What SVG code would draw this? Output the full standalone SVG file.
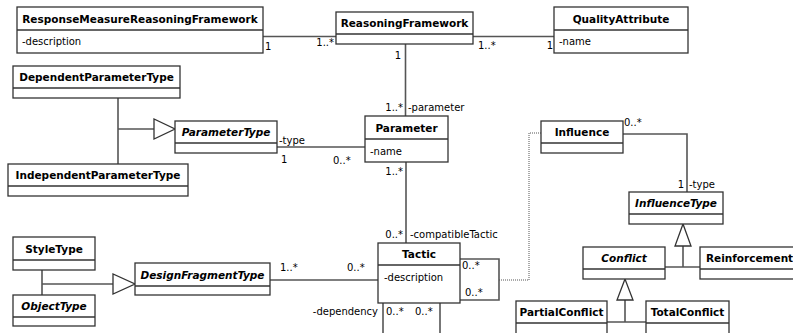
<svg xmlns="http://www.w3.org/2000/svg" width="793" height="333" viewBox="0 0 793 333">
  <style>
    .box { fill: #fff; stroke: #333; stroke-width: 1.3; }
    .sep { stroke: #333; stroke-width: 1.3; }
    .title { font-family: "DejaVu Sans", Verdana, sans-serif; font-size: 10.5px; font-weight: bold; text-anchor: middle; fill: #000; }
    .abs { font-style: italic; }
    .attr { font-family: "DejaVu Sans", Verdana, sans-serif; font-size: 10px; fill: #000; }
    .lbl { font-family: "DejaVu Sans", Verdana, sans-serif; font-size: 10px; fill: #000; }
    .end { text-anchor: end; }
    .conn { fill: none; stroke: #555; stroke-width: 1.6; }
    .dot { fill: none; stroke: #555; stroke-width: 1; stroke-dasharray: 1 1; }
    .gen { fill: #fff; stroke: #333; stroke-width: 1.3; }
  </style>

  <!-- associations and generalizations -->
  <g id="connectors">
    <line class="conn" x1="263" y1="36.5" x2="336" y2="36.5"/>
    <line class="conn" x1="473" y1="36.5" x2="554" y2="36.5"/>
    <line class="conn" x1="405.5" y1="44" x2="405.5" y2="116"/>
    <line class="conn" x1="277" y1="147" x2="365" y2="147"/>
    <line class="conn" x1="406" y1="162" x2="406" y2="243"/>
    <line class="conn" x1="270" y1="280" x2="378" y2="280"/>
    <!-- compatibility self association -->
    <polyline class="conn" points="460,259 499,259 499,300 460,300"/>
    <!-- dependency self association -->
    <line class="conn" x1="383" y1="303" x2="383" y2="340"/>
    <line class="conn" x1="440" y1="303" x2="440" y2="340"/>
    <!-- association class link -->
    <polyline class="dot" points="499,280 529,280 529,133 541,133"/>
    <polyline class="conn" points="623,134 687,134 687,192"/>
    <!-- parameter type hierarchy -->
    <polyline class="conn" points="118,98 118,164"/>
    <line class="conn" x1="118" y1="129" x2="154" y2="129"/>
    <polygon class="gen" points="154,119 154,139 175,129"/>
    <!-- design fragment hierarchy -->
    <line class="conn" x1="42" y1="270" x2="42" y2="295"/>
    <line class="conn" x1="42" y1="284" x2="113" y2="284"/>
    <polygon class="gen" points="113,274 113,294 135,284"/>
    <!-- influence type hierarchy -->
    <line class="conn" x1="683" y1="246" x2="683" y2="267"/>
    <line class="conn" x1="665" y1="267" x2="700" y2="267"/>
    <polygon class="gen" points="683,224 675,246 691,246"/>
    <line class="conn" x1="625" y1="300" x2="625" y2="322"/>
    <line class="conn" x1="607" y1="322" x2="646" y2="322"/>
    <polygon class="gen" points="625,279 617,300 633,300"/>

    <!-- multiplicities and role names -->
    <text class="lbl" x="265" y="50">1</text>
    <text class="lbl end" x="334" y="46">1..*</text>
    <text class="lbl" x="478" y="49">1..*</text>
    <text class="lbl end" x="553" y="49">1</text>
    <text class="lbl end" x="401" y="59">1</text>
    <text class="lbl end" x="403" y="111">1..*</text>
    <text class="lbl" x="408" y="111">-parameter</text>
    <text class="lbl" x="279" y="144">-type</text>
    <text class="lbl" x="281" y="163">1</text>
    <text class="lbl" x="333" y="164">0..*</text>
    <text class="lbl end" x="403" y="175">1..*</text>
    <text class="lbl end" x="403" y="238">0..*</text>
    <text class="lbl" x="410" y="238">-compatibleTactic</text>
    <text class="lbl" x="280" y="271">1..*</text>
    <text class="lbl" x="347" y="271">0..*</text>
    <text class="lbl" x="462" y="269">0..*</text>
    <text class="lbl" x="465" y="296">0..*</text>
    <text class="lbl end" x="378" y="315">-dependency</text>
    <text class="lbl" x="386" y="315">0..*</text>
    <text class="lbl" x="415" y="315">0..*</text>
    <text class="lbl" x="624" y="126">0..*</text>
    <text class="lbl end" x="684" y="188">1</text>
    <text class="lbl" x="689" y="188">-type</text>
  </g>

  <g id="ResponseMeasureReasoningFramework">
    <rect class="box" x="17" y="7" width="246" height="46"/>
    <line class="sep" x1="17" y1="30" x2="263" y2="30"/>
    <text class="title" x="140" y="23">ResponseMeasureReasoningFramework</text>
    <text class="attr" x="22" y="45">-description</text>
  </g>

  <g id="ReasoningFramework">
    <rect class="box" x="336" y="12" width="137" height="32"/>
    <line class="sep" x1="336" y1="34" x2="473" y2="34"/>
    <text class="title" x="404.5" y="27">ReasoningFramework</text>
  </g>

  <g id="QualityAttribute">
    <rect class="box" x="554" y="7" width="134" height="46"/>
    <line class="sep" x1="554" y1="30" x2="688" y2="30"/>
    <text class="title" x="621" y="23">QualityAttribute</text>
    <text class="attr" x="559" y="45">-name</text>
  </g>

  <g id="DependentParameterType">
    <rect class="box" x="13" y="66" width="167" height="32"/>
    <line class="sep" x1="13" y1="88" x2="180" y2="88"/>
    <text class="title" x="96.5" y="81">DependentParameterType</text>
  </g>

  <g id="IndependentParameterType">
    <rect class="box" x="8" y="164" width="180" height="32"/>
    <line class="sep" x1="8" y1="186" x2="188" y2="186"/>
    <text class="title" x="98" y="179">IndependentParameterType</text>
  </g>

  <g id="ParameterType">
    <rect class="box" x="175" y="121" width="102" height="32"/>
    <line class="sep" x1="175" y1="143" x2="277" y2="143"/>
    <text class="title abs" x="226" y="136">ParameterType</text>
  </g>

  <g id="Parameter">
    <rect class="box" x="365" y="116" width="83" height="46"/>
    <line class="sep" x1="365" y1="139" x2="448" y2="139"/>
    <text class="title" x="406.5" y="132">Parameter</text>
    <text class="attr" x="370" y="155">-name</text>
  </g>

  <g id="Influence">
    <rect class="box" x="541" y="121" width="82" height="32"/>
    <line class="sep" x1="541" y1="143" x2="623" y2="143"/>
    <text class="title" x="582" y="136">Influence</text>
  </g>

  <g id="InfluenceType">
    <rect class="box" x="629" y="192" width="94" height="32"/>
    <line class="sep" x1="629" y1="214" x2="723" y2="214"/>
    <text class="title abs" x="676" y="207">InfluenceType</text>
  </g>

  <g id="Conflict">
    <rect class="box" x="583" y="247" width="82" height="32"/>
    <line class="sep" x1="583" y1="269" x2="665" y2="269"/>
    <text class="title abs" x="624" y="262">Conflict</text>
  </g>

  <g id="Reinforcement">
    <rect class="box" x="700" y="247" width="100" height="32"/>
    <line class="sep" x1="700" y1="269" x2="800" y2="269"/>
    <text class="title" x="706" y="262" style="text-anchor:start">Reinforcement</text>
  </g>

  <g id="PartialConflict">
    <rect class="box" x="516" y="301" width="91" height="40"/>
    <line class="sep" x1="516" y1="323" x2="607" y2="323"/>
    <text class="title" x="561.5" y="316">PartialConflict</text>
  </g>

  <g id="TotalConflict">
    <rect class="box" x="646" y="301" width="83" height="40"/>
    <line class="sep" x1="646" y1="323" x2="729" y2="323"/>
    <text class="title" x="687.5" y="316">TotalConflict</text>
  </g>

  <g id="StyleType">
    <rect class="box" x="13" y="237" width="82" height="33"/>
    <line class="sep" x1="13" y1="260" x2="95" y2="260"/>
    <text class="title" x="54" y="253">StyleType</text>
  </g>

  <g id="ObjectType">
    <rect class="box" x="13" y="295" width="82" height="31"/>
    <line class="sep" x1="13" y1="317" x2="95" y2="317"/>
    <text class="title abs" x="54" y="310">ObjectType</text>
  </g>

  <g id="DesignFragmentType">
    <rect class="box" x="135" y="263" width="135" height="32"/>
    <line class="sep" x1="135" y1="286" x2="270" y2="286"/>
    <text class="title abs" x="202.5" y="279">DesignFragmentType</text>
  </g>

  <g id="Tactic">
    <rect class="box" x="378" y="243" width="82" height="60"/>
    <line class="sep" x1="378" y1="265" x2="460" y2="265"/>
    <text class="title" x="419" y="258">Tactic</text>
    <text class="attr" x="384" y="281">-description</text>
  </g>
</svg>
